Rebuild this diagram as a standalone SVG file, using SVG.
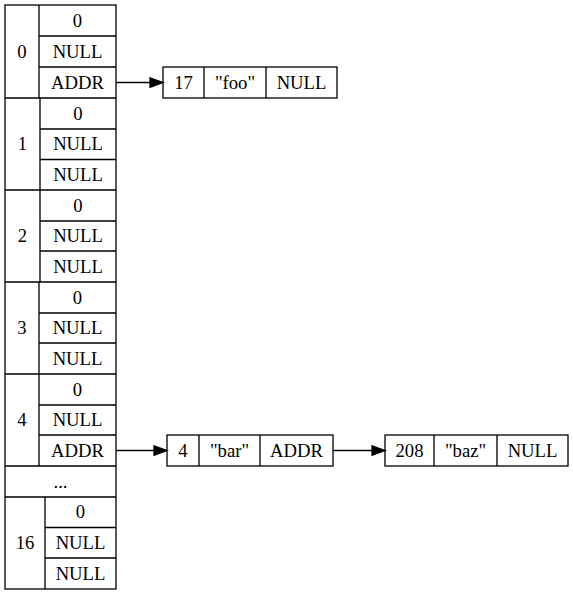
<svg xmlns="http://www.w3.org/2000/svg" width="573" height="595" viewBox="0 0 573 595">
<style>
.b{fill:none;stroke:#000;stroke-width:1.3}
text{font-family:"Liberation Serif","Times New Roman",serif;font-size:18.67px;text-anchor:middle;fill:#000}
.e{stroke:#000;stroke-width:1.3;fill:none}
.h{fill:#000;stroke:#000;stroke-width:1.3}
</style>
<rect x="0" y="0" width="573" height="595" fill="#fff"/>
<g id="table">
<rect class="b" x="5" y="5" width="111" height="584"/>
<path class="b" d="M5,98H116M5,190H116M5,282H116M5,374H116M5,466H116M5,497H116"/>
<path class="b" d="M39,5V98M39,36H116M39,67H116"/>
<path class="b" d="M40,98V190M40,129H116M40,159.5H116"/>
<path class="b" d="M40,190V282M40,221H116M40,251H116"/>
<path class="b" d="M39,282V374M39,313H116M39,343H116"/>
<path class="b" d="M39,374V466M39,405H116M39,435H116"/>
<path class="b" d="M45,497V589M45,527.5H116M45,558H116"/>
<text x="22" y="57.7">0</text>
<text x="77.5" y="26.7">0</text>
<text x="77.5" y="57.7">NULL</text>
<text x="77.5" y="88.7">ADDR</text>
<text x="22.5" y="150.2">1</text>
<text x="78" y="119.7">0</text>
<text x="78" y="150.2">NULL</text>
<text x="78" y="180.7">NULL</text>
<text x="22.5" y="242.2">2</text>
<text x="78" y="211.7">0</text>
<text x="78" y="242.2">NULL</text>
<text x="78" y="272.7">NULL</text>
<text x="22" y="334.2">3</text>
<text x="77.5" y="303.7">0</text>
<text x="77.5" y="334.2">NULL</text>
<text x="77.5" y="364.7">NULL</text>
<text x="22" y="426.2">4</text>
<text x="77.5" y="395.7">0</text>
<text x="77.5" y="426.2">NULL</text>
<text x="77.5" y="456.7">ADDR</text>
<text x="60.5" y="487.7">...</text>
<text x="25" y="549.2">16</text>
<text x="80.5" y="518.2">0</text>
<text x="80.5" y="548.7">NULL</text>
<text x="80.5" y="579.7">NULL</text>
</g>
<g id="foo">
<rect class="b" x="163" y="67" width="174" height="31"/>
<path class="b" d="M204,67V98M266,67V98"/>
<text x="183.5" y="88.7">17</text>
<text x="235" y="88.7">"foo"</text>
<text x="301.5" y="88.7">NULL</text>
</g>
<g id="bar">
<rect class="b" x="167" y="435" width="166" height="31"/>
<path class="b" d="M199,435V466M260,435V466"/>
<text x="183" y="456.7">4</text>
<text x="229.5" y="456.7">"bar"</text>
<text x="296.5" y="456.7">ADDR</text>
</g>
<g id="baz">
<rect class="b" x="385" y="435" width="183" height="31"/>
<path class="b" d="M434,435V466M497,435V466"/>
<text x="409.5" y="456.7">208</text>
<text x="465.5" y="456.7">"baz"</text>
<text x="532.5" y="456.7">NULL</text>
</g>
<g id="connectors">
<path class="e" d="M116,82.5H150"/>
<polygon class="h" points="150,77.8 163,82.5 150,87.2"/>
<path class="e" d="M116,450.5H154"/>
<polygon class="h" points="154,445.8 167,450.5 154,455.2"/>
<path class="e" d="M333,450.5H372"/>
<polygon class="h" points="372,445.8 385,450.5 372,455.2"/>
</g>
</svg>
